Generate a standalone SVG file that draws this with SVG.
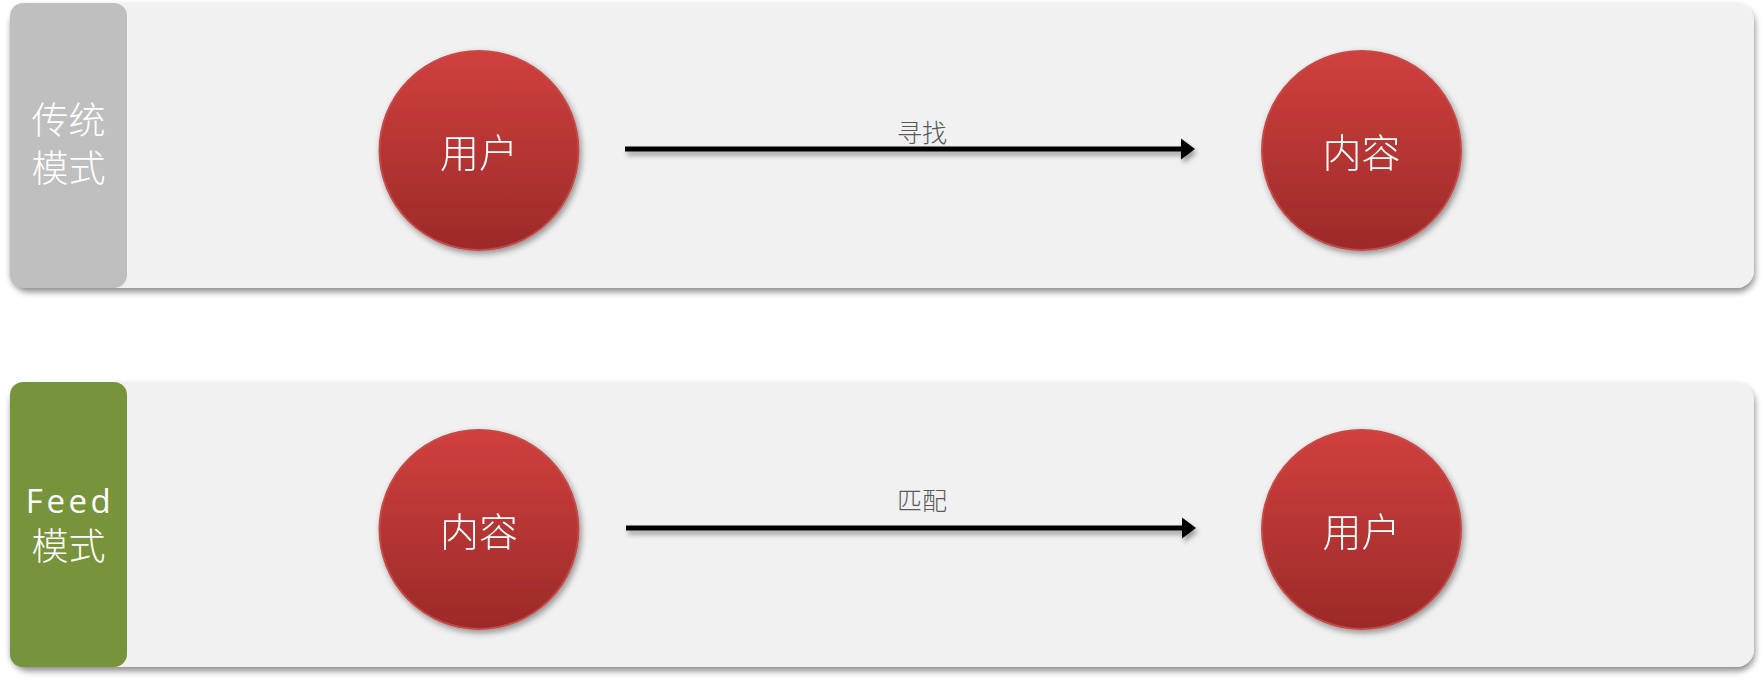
<svg xmlns="http://www.w3.org/2000/svg" width="1763" height="681" viewBox="0 0 1763 681">
<style>
.panel{fill:#f1f1f1;}
.lbl{font-family:"Noto Sans CJK SC","Noto Sans",sans-serif;fill:#ffffff;font-size:37px;font-weight:300;text-anchor:middle;}
.node{fill:url(#redg);stroke:#c44a48;stroke-width:2;}
.ntext{font-family:"Noto Sans CJK SC","Noto Sans",sans-serif;fill:#ffffff;font-size:39px;font-weight:300;text-anchor:middle;dominant-baseline:central;}
.etext{font-family:"Noto Sans CJK SC","Noto Sans",sans-serif;fill:#595959;font-size:25px;font-weight:300;text-anchor:middle;}
.edge{stroke:#000;stroke-width:5;fill:none;marker-end:url(#arr);}
</style>
<defs>
<linearGradient id="redg" x1="0" y1="0" x2="0" y2="1">
<stop offset="0" stop-color="#d0403e"/>
<stop offset="1" stop-color="#9b2a28"/>
</linearGradient>
<filter id="psh" x="-5%" y="-10%" width="110%" height="125%">
<feDropShadow dx="1" dy="4" stdDeviation="3" flood-color="#000" flood-opacity="0.45"/>
</filter>
<filter id="csh" x="-20%" y="-20%" width="140%" height="140%">
<feDropShadow dx="2" dy="3" stdDeviation="3" flood-color="#000" flood-opacity="0.4"/>
</filter>
<filter id="ash" x="-5%" y="-200%" width="110%" height="500%">
<feDropShadow dx="2" dy="4" stdDeviation="2.5" flood-color="#000" flood-opacity="0.35"/>
</filter>
<marker id="arr" markerWidth="5" markerHeight="5" refX="1.6" refY="2.5" orient="auto" markerUnits="strokeWidth" viewBox="0 0 5 5">
<path d="M0,0.4 L2.8,2.5 L0,4.6 Z" fill="#000"/>
</marker>
</defs>
<rect width="1763" height="681" fill="#ffffff"/>
<g id="panel-traditional">
<rect class="panel" x="10" y="3" width="1744" height="285" rx="18" filter="url(#psh)"/>
<rect x="10" y="3" width="117" height="285" rx="13" fill="#bfbfbf"/>
<text class="lbl" x="68.5" y="134">传统</text>
<text class="lbl" x="68.5" y="182">模式</text>
</g>
<g id="panel-feed">
<rect class="panel" x="10" y="382" width="1744" height="285" rx="18" filter="url(#psh)"/>
<rect x="10" y="382" width="117" height="285" rx="13" fill="#77933c"/>
<text class="lbl" x="70" y="513" style="letter-spacing:3.5px;font-family:'Open Sans','Noto Sans',sans-serif;font-size:33px;font-weight:400">Feed</text>
<text class="lbl" x="68.5" y="560">模式</text>
</g>
<g id="connectors">
<g filter="url(#ash)">
<line class="edge" x1="625" y1="149" x2="1189" y2="149"/>
<line class="edge" x1="626" y1="528" x2="1190" y2="528"/>
</g>
<text class="etext" x="922" y="142">寻找</text>
<text class="etext" x="922" y="510">匹配</text>
</g>
<g id="node-user-1" filter="url(#csh)">
<circle class="node" cx="479" cy="150.5" r="99.5"/>
<text class="ntext" x="479" y="150">用户</text>
</g>
<g id="node-content-1" filter="url(#csh)">
<circle class="node" cx="1361.5" cy="150.5" r="99.5"/>
<text class="ntext" x="1361.5" y="150">内容</text>
</g>
<g id="node-content-2" filter="url(#csh)">
<circle class="node" cx="479" cy="529.5" r="99.5"/>
<text class="ntext" x="479" y="529">内容</text>
</g>
<g id="node-user-2" filter="url(#csh)">
<circle class="node" cx="1361.5" cy="529.5" r="99.5"/>
<text class="ntext" x="1361.5" y="529">用户</text>
</g>
</svg>
